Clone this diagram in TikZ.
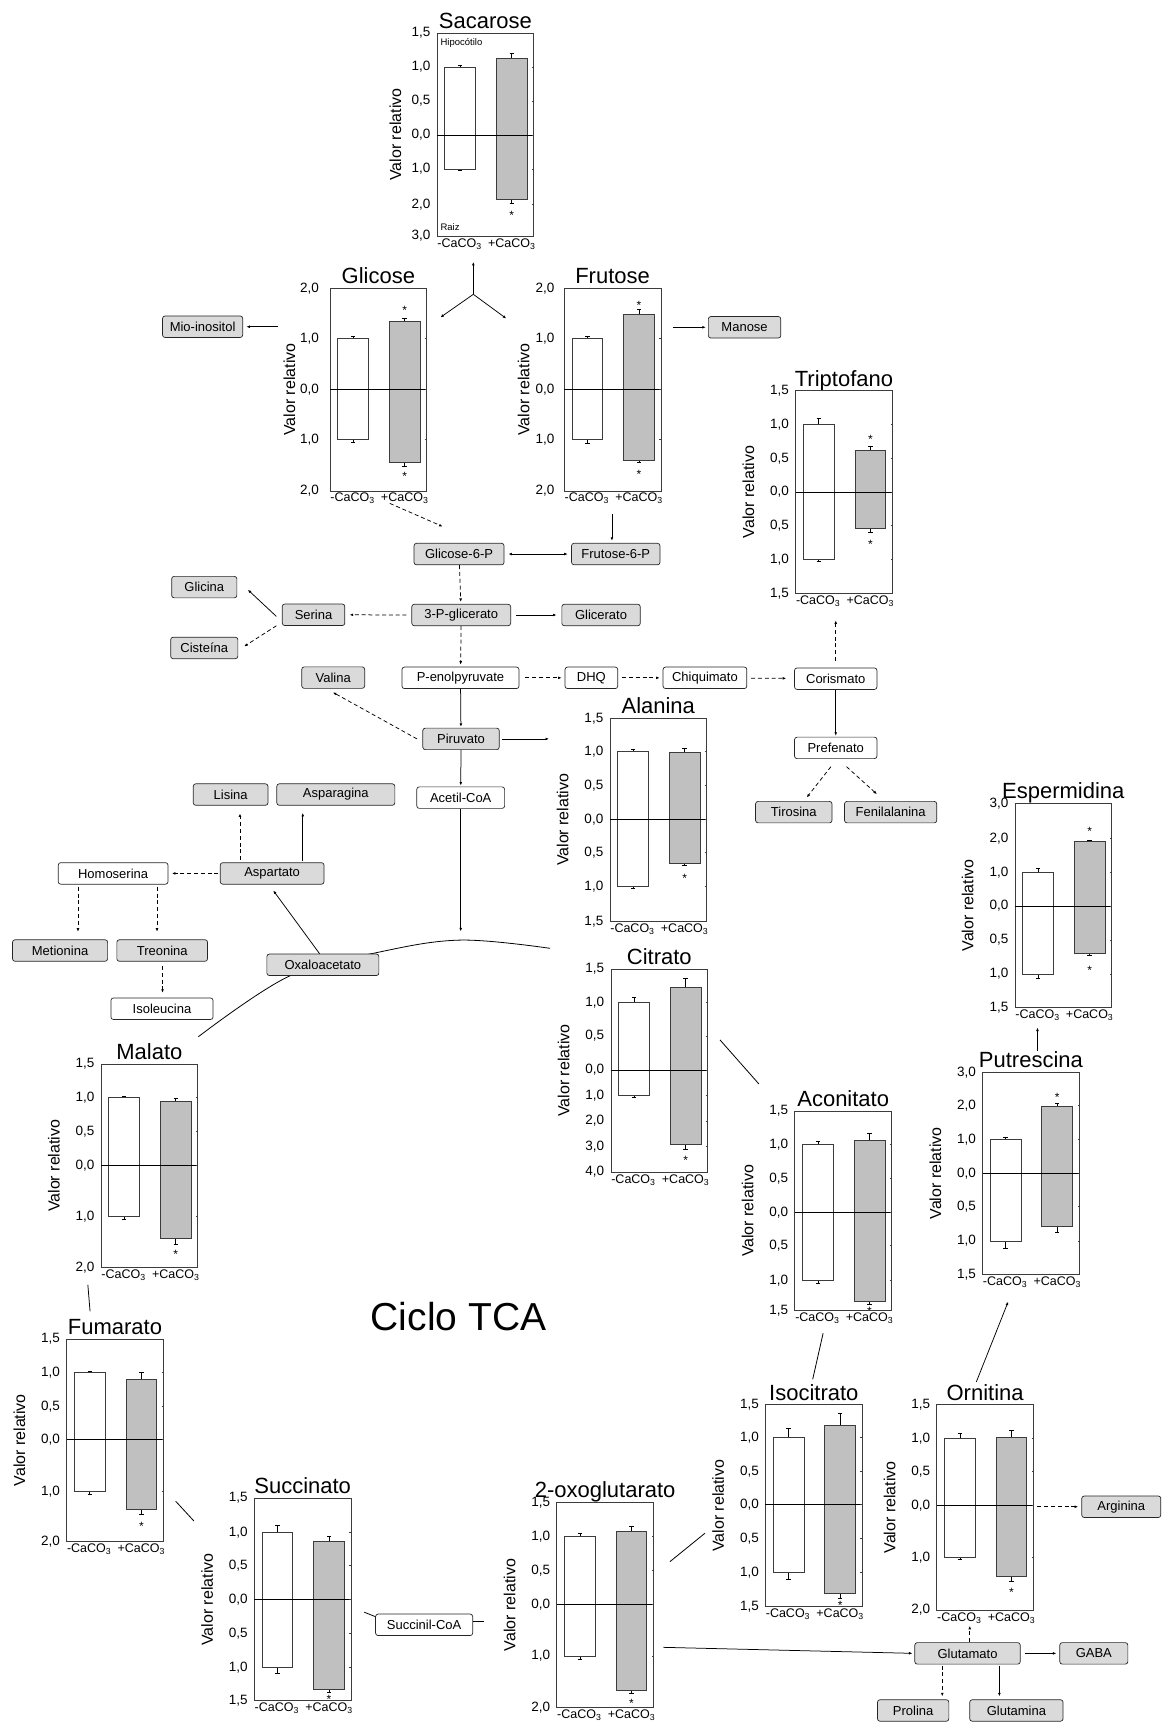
\documentclass[tikz,border=0pt]{standalone}
\usepackage{fontspec}
\setmainfont{Liberation Sans}
\usetikzlibrary{arrows.meta}

\definecolor{boxgray}{RGB}{218,218,218}
\definecolor{bargray}{RGB}{192,192,192}
\definecolor{framegray}{RGB}{60,60,60}
\newcommand{\fs}[1]{\fontsize{#1}{#1}\selectfont}
\newcommand{\tickx}{-5}

\tikzset{
  metab/.style={draw=black!85, rounded corners=2.5pt, line width=0.7pt,
    minimum height=21.5pt, inner sep=1pt, font=\fs{13}},
  cinza/.style={metab, fill=boxgray},
  branco/.style={metab, fill=white},
  bw/.style={minimum width=#1*1.0983pt},
  seta/.style={-{Latex[length=3.5pt,width=2.8pt]}, line width=0.75pt},
  setad/.style={seta, dash pattern=on 4pt off 2.8pt},
  dupla/.style={{Latex[length=3.5pt,width=2.8pt]}-{Latex[length=3.5pt,width=2.8pt]}, line width=0.75pt},
  linha/.style={line width=0.8pt},
  grafbox/.style={draw=framegray, line width=0.8pt},
  zeroline/.style={line width=1pt},
  wbarra/.style={draw=framegray, fill=white, line width=0.8pt},
  gbarra/.style={draw=framegray, fill=bargray, line width=0.8pt},
  errline/.style={line width=0.6pt},
  ticklab/.style={anchor=east, inner sep=1pt, font=\fs{13.5}},
  xlab/.style={anchor=north, inner sep=1pt, font=\fs{12.5}},
  ylab/.style={rotate=90, inner sep=1pt, font=\fs{16}},
  ttl/.style={anchor=base, inner sep=0pt, font=\fs{22}},
  signif/.style={inner sep=0pt, font=\fs{12}}
}

% one bar chart, drawn in local units from its top left corner
% #1 ylabel offset, #2 name, #3 title, #4 height, #5 zero, #6 ticks, #7 bars
\newcommand{\graf}[7][-43]{%
  \node[ttl] (#2) at (44,-4) {#3};
  #7
  \draw[grafbox] (0,0) rectangle (88,#4);
  \draw[zeroline] (0,#5) -- (88,#5);
  \foreach \ty/\tl in {#6}{
    \node[ticklab] at (\tickx,\ty) {\tl};
    \draw[grafbox] (88,\ty) -- (86.5,\ty);
  }
  \node[ylab] (#2-y) at (#1,#4/2) {Valor relativo};
  \node[xlab] (#2-a) at (20.5,#4+1) {-CaCO\textsubscript{3}};
  \node[xlab] (#2-b) at (68,#4+1) {+CaCO\textsubscript{3}};
}
% the two bars with their error bars
\newcommand{\duas}[8]{%
  \draw[errline] (21,#1) -- (21,#5) (19,#5) -- (23,#5);
  \draw[errline] (21,#2) -- (21,#6) (19,#6) -- (23,#6);
  \draw[errline] (68,#3) -- (68,#7) (66,#7) -- (70,#7);
  \draw[errline] (68,#4) -- (68,#8) (66,#8) -- (70,#8);
  \draw[wbarra] (7,#1) rectangle (35,#2);
  \draw[gbarra] (54,#3) rectangle (82,#4);
}
\newcommand{\estrela}[2]{\node[signif] at (#1,#2+2.4) {*};}

\begin{document}
\begin{tikzpicture}[x=1.0983pt, y=-1.0983pt]
  \useasboundingbox (0,0) rectangle (1058,1568);

  % --- sugars ---
  \begin{scope}[shift={(398,30)}]
    \graf[-38]{sac}{Sacarose}{185}{93}{0/{1,5},31/{1,0},62/{0,5},93/{0,0},124/{1,0},156/{2,0},185/{3,0}}{%
      \duas{31}{124}{23}{152}{29.5}{125.5}{18.6}{155}
      \estrela{68}{164}
      \node[anchor=west, inner sep=0pt, font=\fs{9.5}] (hipo) at (3,9) {Hipocótilo};
      \node[anchor=west, inner sep=0pt, font=\fs{9.5}] (raiz) at (3,177) {Raiz};}
  \end{scope}
  \begin{scope}[shift={(300.5,262.5)}]
    \renewcommand{\tickx}{-9}
    \graf[-37]{gli}{Glicose}{184.5}{92.5}{0/{2,0},46/{1,0},92.5/{0,0},138/{1,0},184.5/{2,0}}{%
      \duas{46}{138}{30.4}{158.8}{44}{140.5}{27.3}{161.8}
      \estrela{68}{17.6} \estrela{68}{168.5}}
  \end{scope}
  \begin{scope}[shift={(513.8,262.5)}]
    \renewcommand{\tickx}{-8}
    \graf[-37]{fru}{Frutose}{184.5}{92.5}{0/{2,0},46/{1,0},92.5/{0,0},138/{1,0},184.5/{2,0}}{%
      \duas{46}{138}{23.7}{157}{43.5}{141}{19}{158.5}
      \estrela{68}{13} \estrela{68}{167}}
  \end{scope}
  \coordinate (hub) at (431,268);
  \draw[seta] (hub) -- ++(0,-29.5);
  \draw[seta] (hub) -- ++(-30,21);
  \draw[seta] (hub) -- ++(30,22);

  \node[cinza, bw=73] (mio) at (184.5,297.5) {Mio-inositol};
  \node[cinza, bw=66] (manose) at (678,298) {Manose};
  \draw[seta] (mio.east) ++(32,0) -- ++(-29,0);
  \draw[seta] (manose.west) ++(-32,0) -- ++(30,0);

  % --- glycolysis ---
  \node[cinza, bw=82] (glic6p) at (418,504.5) {Glicose-6-P};
  \node[cinza, bw=80.5] (frut6p) at (560.7,504.5) {Frutose-6-P};
  \node[cinza, bw=59.4] (glicina) at (186,534.6) {Glicina};
  \node[cinza, bw=57] (serina) at (285.5,559.8) {Serina};
  \node[cinza, bw=90] (pg3) at (420,560) {3-P-glicerato};
  \node[cinza, bw=71.4] (glicerato) at (547.3,560) {Glicerato};
  \node[cinza, bw=61.2] (cisteina) at (186,590) {Cisteína};
  \node[cinza, bw=57.3] (valina) at (303.4,617) {Valina};
  \node[branco, bw=106.6] (pep) at (419.3,617.2) {P-enolpyruvate};
  \node[branco, bw=48] (dhq) at (538.5,617.2) {DHQ};
  \node[branco, bw=76.3] (chiq) at (641.9,617.2) {Chiquimato};
  \node[branco, bw=75] (coris) at (761,618) {Corismato};
  \node[cinza, bw=69.6] (piruv) at (419.8,672.8) {Piruvato};
  \node[branco, bw=75] (pref) at (761,681) {Prefenato};
  \node[branco, bw=80] (acetil) at (419.5,726.3) {Acetil-CoA};
  \node[cinza, bw=69.6] (tirosina) at (722.8,739.5) {Tirosina};
  \node[cinza, bw=84] (fenil) at (811,739.5) {Fenilalanina};

  \draw[setad] (glic6p.north) ++(-63,-36) -- ++(48,21);
  \draw[seta] (frut6p.north) ++(-3.5,-26) -- ++(0,24);
  \draw[dupla, shorten <=4pt, shorten >=3.5pt] (glic6p) -- (frut6p);
  \draw[setad, shorten >=2pt] (glic6p) -- (pg3);
  \draw[setad, shorten <=5pt, shorten >=4.5pt] (pg3) -- (serina);
  \draw[seta, shorten <=5pt, shorten >=5pt] (pg3) -- (glicerato);
  \draw[seta] (serina.west) ++(-5,1.5) -- ++(-26,-24.3);
  \draw[setad] (serina.west) ++(-5,10) -- ++(-29.4,18.8);
  \draw[setad, shorten >=2pt] (pg3) -- (pep);
  \draw[setad, shorten <=6pt, shorten >=3pt] (pep) -- (dhq);
  \draw[setad, shorten <=4pt, shorten >=3pt] (dhq) -- (chiq);
  \draw[setad, shorten <=4pt, shorten >=8pt] (chiq) -- (coris);
  \draw[setad] (coris.north) ++(0,-6) -- ++(0,-37);
  \draw[seta, shorten >=1pt] (coris) -- (pref);
  \draw[setad] (pref.south) ++(-4.4,7) -- ++(-22,28);
  \draw[setad] (pref.south) ++(9.8,7) -- ++(27.7,25);
  \draw[seta, shorten >=1pt] (pep) -- (piruv);
  \draw[setad] (piruv.west) ++(-5,0) -- ++(-76.6,-42.4);
  \draw[seta] (piruv.east) ++(2,0) -- ++(43,0);
  \draw[seta, shorten >=1pt] (piruv) -- (acetil);

  % --- Triptofano and Alanina ---
  \begin{scope}[shift={(724.5,355.7)}]
    \graf{tri}{Triptofano}{184.5}{92.3}{0/{1,5},30.7/{1,0},61.5/{0,5},92.3/{0,0},123/{0,5},154/{1,0},184.5/{1,5}}{%
      \duas{30.7}{154}{54.6}{125.4}{25}{155.5}{50.4}{129.3}
      \estrela{68}{42} \estrela{68}{137.5}}
  \end{scope}
  \begin{scope}[shift={(555.4,654)}]
    \graf{ala}{Alanina}{185}{92}{0/{1,5},30.5/{1,0},61/{0,5},92/{0,0},122.5/{0,5},153/{1,0},185/{1,5}}{%
      \duas{30.5}{153.3}{31.3}{132}{28}{154.5}{27.7}{134}
      \estrela{68}{143.3}}
  \end{scope}

  % --- aspartate family ---
  \draw[linha] plot[smooth, tension=0.6] coordinates {(180.6,944) (263,889) (345,867) (419.5,856) (500.8,863.5)};
  \node[cinza, bw=68] (lisina) at (210,723.5) {Lisina};
  \node[cinza, bw=107.5] (asparag) at (305.8,723.5) {Asparagina};
  \node[branco, bw=100] (homo) at (103,795.3) {Homoserina};
  \node[cinza, bw=94.5] (aspart) at (247.8,795.3) {Aspartato};
  \node[cinza, bw=86.6] (metion) at (54.7,865.5) {Metionina};
  \node[cinza, bw=82.6] (treon) at (147.7,865.5) {Treonina};
  \node[cinza, bw=102] (oxalo) at (294,878.5) {Oxaloacetato};
  \node[branco, bw=93] (isoleu) at (147.5,918.5) {Isoleucina};

  \draw[seta] (acetil.south) -- ++(0,111.7);
  \draw[seta] (oxalo.north) ++(-3,0) -- ++(-42.2,-57.6);
  \draw[setad] (aspart.north) ++(-29.3,-2) -- ++(0,-42.5);
  \draw[seta] (aspart.north) ++(27.9,-1) -- ++(0,-44);
  \draw[setad, shorten <=1.5pt, shorten >=3.5pt] (aspart) -- (homo);
  \draw[setad] (homo.south) ++(-32,2) -- ++(0,41);
  \draw[setad] (homo.south) ++(40,2) -- ++(0,41);
  \draw[setad] (treon.south) ++(0.3,4) -- ++(0,24.4);

  % --- TCA cycle ---
  \node[font=\fs{39}] (tca) at (417.5,1199) {Ciclo TCA};
  \begin{scope}[shift={(556.3,882.3)}]
    \graf{cit}{Citrato}{185}{92}{0/{1,5},30.5/{1,0},61/{0,5},92/{0,0},115/{1,0},138.5/{2,0},161.5/{3,0},185/{4,0}}{%
      \duas{30.5}{115}{16.7}{159.6}{25.7}{116.5}{8.5}{163.8}
      \estrela{68}{172.3}}
  \end{scope}
  \begin{scope}[shift={(92,969)}]
    \graf{mal}{Malato}{185}{92.3}{0/{1,5},30.4/{1,0},61.4/{0,5},92.3/{0,0},138.8/{1,0},185/{2,0}}{%
      \duas{30.4}{138.8}{33.5}{158.5}{29}{141}{31}{164}
      \estrela{68}{170.6}}
  \end{scope}
  \begin{scope}[shift={(723.8,1011.6)}]
    \graf{aco}{Aconitato}{182}{92.2}{0/{1,5},30.3/{1,0},61.3/{0,5},92.2/{0,0},122.6/{0,5},154.4/{1,0},182/{1,5}}{%
      \duas{30.3}{154.4}{26.4}{173.6}{28}{157}{20.3}{175.6}
      \estrela{68}{180}}
  \end{scope}
  \begin{scope}[shift={(60.7,1219.2)}]
    \graf{fum}{Fumarato}{184.5}{91.9}{0/{1,5},30.6/{1,0},61.6/{0,5},91.9/{0,0},138.9/{1,0},184.5/{2,0}}{%
      \duas{30.6}{138.9}{36.4}{154.8}{29.5}{141}{30.3}{159.3}
      \estrela{68}{168.4}}
  \end{scope}
  \begin{scope}[shift={(231.6,1364.2)}]
    \graf{suc}{Succinato}{184.5}{92.6}{0/{1,5},31/{1,0},61.6/{0,5},92.6/{0,0},122.9/{0,5},153.9/{1,0},184.5/{1,5}}{%
      \duas{31}{153.9}{39.5}{173.7}{25}{159.4}{35}{176.7}
      \estrela{68}{180.6}}
  \end{scope}
  \begin{scope}[shift={(507,1368)}]
    \graf{oxo}{2-oxoglutarato}{187}{93}{0/{1,5},31/{1,0},62/{0,5},93/{0,0},140/{1,0},187/{2,0}}{%
      \duas{31}{140}{26}{171}{28}{143}{22}{174}
      \estrela{68}{181}}
  \end{scope}
  \begin{scope}[shift={(697,1279)}]
    \graf{iso}{Isocitrato}{184}{91}{0/{1,5},30/{1,0},61/{0,5},91/{0,0},122/{0,5},153/{1,0},184/{1,5}}{%
      \duas{30}{153}{19}{172}{22}{159}{8}{176}
      \estrela{68}{180}}
  \end{scope}
  \node[branco, bw=88.4] (succoa) at (386.2,1479.5) {Succinil-CoA};
  \draw[linha] (655.6,946.9) -- (691,987);
  \draw[linha] (749.5,1214) -- (740,1256);
  \draw[linha] (610,1422) -- (642,1396);
  \draw[linha] (160,1367) -- (176.6,1385);
  \draw[linha] (80,1170) -- (82,1194);
  \draw[linha] (succoa.west) ++(0,-7.5) -- ++(-10,-4);
  \draw[linha] (succoa.east) ++(0,-3) -- ++(10,0);

  % --- polyamines and glutamate ---
  \begin{scope}[shift={(924.2,731.4)}]
    \graf{esp}{Espermidina}{186}{93.6}{0/{3,0},31.9/{2,0},63.2/{1,0},93.6/{0,0},124.5/{0,5},155.4/{1,0},186/{1,5}}{%
      \duas{63.2}{155.4}{34.9}{136.6}{59.5}{159.4}{33.4}{138.8}
      \estrela{68}{23.6} \estrela{68}{149.7}}
  \end{scope}
  \begin{scope}[shift={(894.7,976.4)}]
    \graf{put}{Putrescina}{184}{91.9}{0/{3,0},30.3/{2,0},61/{1,0},91.9/{0,0},122.3/{0,5},153.6/{1,0},184/{1,5}}{%
      \duas{61}{153.6}{31.2}{140.5}{59}{160}{28.2}{145.6}
      \estrela{68}{20.6}}
  \end{scope}
  \begin{scope}[shift={(853,1279)}]
    \graf{orn}{Ornitina}{187}{92}{0/{1,5},31/{1,0},61/{0,5},92/{0,0},139/{1,0},187/{2,0}}{%
      \duas{31}{139}{30}{156}{26}{141}{23}{161}
      \estrela{68}{169}}
  \end{scope}
  \node[cinza, bw=72] (arginina) at (1021,1372) {Arginina};
  \node[cinza, bw=96] (glu) at (881,1505.5) {Glutamato};
  \node[cinza, bw=62] (gaba) at (996,1505.5) {GABA};
  \node[cinza, bw=65] (prolina) at (831.5,1557.5) {Prolina};
  \node[cinza, bw=85] (glutamina) at (925.5,1557.5) {Glutamina};

  \draw[seta] (put.north) ++(6,-1) -- ++(0,-21);
  \draw[seta] (orn.north) ++(-8,-2) -- ++(29,-73);
  \draw[setad] (arginina.west) ++(-40,0) -- ++(37,0);
  \draw[setad] (glu.north) ++(2,0) -- ++(0,-15);
  \coordinate (oxo-out) at (604,1500);
  \draw[seta, shorten >=2pt] (oxo-out) -- (glu.west);
  \draw[seta, shorten <=4pt, shorten >=3pt] (glu) -- (gaba);
  \draw[setad] (glu.south) ++(-23,1) -- ++(0,28);
  \draw[seta] (glu.south) ++(29,1) -- ++(0,28);
\end{tikzpicture}
\end{document}
